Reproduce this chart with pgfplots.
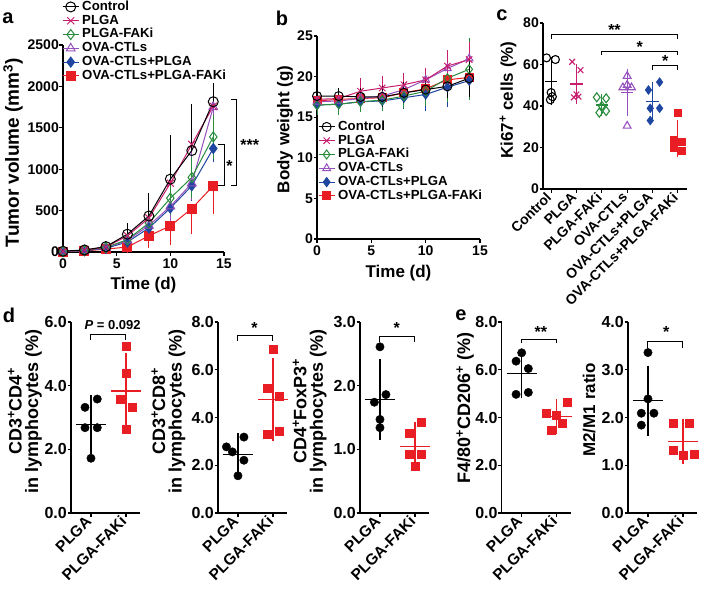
\documentclass[border=0pt]{standalone}
\usepackage{fontspec}
\setmainfont{Liberation Sans}
\usepackage{pgfplots}
\pgfplotsset{compat=1.18}

\definecolor{cCtrl}{RGB}{0,0,0}
\definecolor{cPLGA}{RGB}{200,30,110}
\definecolor{cFAK}{RGB}{40,140,60}
\definecolor{cOVA}{RGB}{150,80,190}
\definecolor{cOP}{RGB}{30,70,160}
\definecolor{cOPF}{RGB}{232,30,36}

\newcommand\fs[1]{\fontsize{#1}{#1}\selectfont\bfseries}
\newcommand\fl{\fontsize{18}{16.5}\selectfont\bfseries}
\tikzset{br/.style={black, line width=1pt}}

\pgfplotsset{
  gp/.style={
    scale only axis, axis lines=left, axis line style={-, line width=1.3pt},
    enlargelimits=false, clip=false,
    tick align=outside, major tick length=3.5pt,
    tick style={black, line width=1.2pt},
    tick label style={font=\fs{14}},
    yticklabel style={inner xsep=0.5pt},
    label style={font=\fs{17}},
    /pgf/number format/assume math mode=true,
    /pgf/number format/1000 sep={},
    legend image code/.code={\draw[mark repeat=2, mark phase=2, #1] plot coordinates {(0pt,0pt) (8pt,0pt) (16pt,0pt)};},
  },
  lg/.style={legend cell align=left, reverse legend,
    legend style={draw=none, fill=none, inner sep=0pt, font=\fs{13.2}, row sep=0.5pt,
      nodes={inner xsep=3pt, inner ysep=0.5pt, text height=9.5pt, text depth=2.8pt}}},
  ln/.style={line width=1pt, mark options={solid, line width=1pt},
    error bars/y explicit, error bars/error bar style={line width=1pt},
    error bars/error mark options={line width=1pt, mark size=4pt}},
  cat/.style={gp, width=69pt, height=191pt, xmin=0.43, xmax=2.4, ymin=0,
    xtick={1,2}, xticklabels={PLGA,PLGA-FAKi},
    xticklabel style={rotate=45, anchor=east, font=\fs{15.5}},
    yticklabel style={font=\fs{16}, /pgf/number format/.cd, fixed, fixed zerofill, precision=1},
    label style={font=\fl}},
  dot/.style={only marks, mark=*, mark size=4.2pt, black, forget plot},
  sq/.style={only marks, mark=square*, mark size=4pt, cOPF, forget plot},
  mn/.style={#1, line width=1.2pt, mark=none, forget plot},
  sd/.style={draw=none, mark=none, forget plot, error bars/y dir=both, error bars/y explicit,
    error bars/error bar style={#1, line width=1.2pt},
    error bars/error mark options={#1, line width=1.2pt, mark size=6.5pt}},
  sdc/.style={draw=none, mark=none, forget plot, error bars/y dir=both, error bars/y explicit,
    error bars/error bar style={#1, line width=1.1pt},
    error bars/error mark options={#1, line width=1.1pt, mark size=4pt}},
}

\begin{document}
\begin{tikzpicture}
\useasboundingbox (0pt,0pt) rectangle (709pt,-591pt);

% ---------- a ----------
\node[font=\fs{20}] at (8pt,-18pt) {a};
\begin{axis}[gp, lg, at={(63pt,-252pt)}, anchor=south west, width=161pt, height=207pt,
  xmin=0, xmax=15, ymin=0, ymax=2500, xtick={0,5,10,15}, ytick={0,500,...,2500},
  xlabel={Time (d)}, ylabel={Tumor volume (mm\textsuperscript{3})},
  xlabel style={at={(axis description cs:0.5,-0.16)}, anchor=center},
  ylabel style={font=\fs{19}, at={(axis description cs:-0.31,0.48)}, anchor=center},
  legend style={at={(axis description cs:-0.006,1.217)}, anchor=north west}]
\addplot[cOPF, mark=square*, mark size=4.5pt, ln, error bars/y dir=minus] coordinates {
  (0,5) +- (0,0) (2,12) +- (0,5) (4,35) +- (0,10) (6,60) +- (0,25) (8,195) +- (0,100)
  (10,315) +- (0,185) (12,525) +- (0,265) (14,800) +- (0,290)};
\addlegendentry{OVA-CTLs+PLGA-FAKi}
\addplot[cOP, mark=diamond*, mark size=5pt, ln, error bars/y dir=both] coordinates {
  (0,5) +- (0,0) (2,15) +- (0,5) (4,45) +- (0,10) (6,120) +- (0,30) (8,290) +- (0,70)
  (10,530) +- (0,130) (12,800) +- (0,130) (14,1250) +- (0,120)};
\addlegendentry{OVA-CTLs+PLGA}
\addplot[cOVA, mark=triangle, mark size=5pt, ln, error bars/y dir=both] coordinates {
  (0,6) += (0,0) -= (0,0) (2,18) += (0,5) -= (0,5) (4,50) += (0,10) -= (0,10)
  (6,140) += (0,40) -= (0,40) (8,320) += (0,90) -= (0,90) (10,550) += (0,150) -= (0,150)
  (12,830) += (0,480) -= (0,150) (14,1750) += (0,0) -= (0,470)};
\addlegendentry{OVA-CTLs}
\addplot[cFAK, mark=diamond, mark size=5pt, ln, error bars/y dir=both] coordinates {
  (0,8) +- (0,0) (2,20) +- (0,5) (4,55) +- (0,10) (6,150) +- (0,40) (8,350) +- (0,90)
  (10,650) +- (0,160) (12,900) +- (0,200) (14,1390) +- (0,220)};
\addlegendentry{PLGA-FAKi}
\addplot[cPLGA, mark=x, mark size=5pt, ln, error bars/y dir=plus] coordinates {
  (0,8) +- (0,0) (2,22) +- (0,8) (4,60) +- (0,15) (6,195) +- (0,60) (8,410) +- (0,120)
  (10,830) +- (0,280) (12,1300) +- (0,440) (14,1760) +- (0,200)};
\addlegendentry{PLGA}
\addplot[cCtrl, mark=o, mark size=5pt, ln, error bars/y dir=plus] coordinates {
  (0,10) +- (0,0) (2,25) +- (0,10) (4,65) +- (0,20) (6,215) +- (0,85) (8,435) +- (0,230)
  (10,880) +- (0,480) (12,1225) +- (0,515) (14,1815) +- (0,180)};
\addlegendentry{Control}
\draw[br] (14.4,1301) -- (15,1301) -- (15,801) -- (14.4,801);
\draw[br] (15.66,1836) -- (16.18,1836) -- (16.18,801) -- (15.66,801);
\node[font=\fs{16}] at (15.5,1040) {*};
\node[font=\fs{16}] at (17.4,1290) {***};
\end{axis}

% ---------- b ----------
\node[font=\fs{20}] at (282pt,-18pt) {b};
\begin{axis}[gp, lg, at={(317pt,-239pt)}, anchor=south west, width=163pt, height=203pt,
  xmin=0, xmax=15, ymin=0, ymax=25, xtick={0,5,10,15}, ytick={0,5,...,25},
  xlabel={Time (d)}, ylabel={Body weight (g)},
  xlabel style={at={(axis description cs:0.5,-0.167)}, anchor=center},
  ylabel style={at={(axis description cs:-0.196,0.54)}, anchor=center},
  legend style={at={(axis description cs:0.006,0.586)}, anchor=north west}]
\addplot[cOPF, mark=square*, mark size=4pt, ln, error bars/y dir=both] coordinates {
  (0,17.0) +- (0,0.5) (2,17.2) +- (0,0.5) (4,17.3) +- (0,0.5) (6,17.4) +- (0,0.6)
  (8,18.0) +- (0,0.7) (10,18.5) +- (0,0.8) (12,19.6) +- (0,0.9) (14,19.9) +- (0,1.2)};
\addlegendentry{OVA-CTLs+PLGA-FAKi}
\addplot[cOP, mark=diamond*, mark size=4.5pt, ln, error bars/y dir=both] coordinates {
  (0,16.5) +- (0,0.5) (2,16.6) +- (0,0.5) (4,16.9) +- (0,0.6) (6,17.0) +- (0,0.7)
  (8,17.4) +- (0,0.9) (10,17.8) +- (0,1.5) (12,18.7) +- (0,2.0) (14,19.5) +- (0,1.5)};
\addlegendentry{OVA-CTLs+PLGA}
\addplot[cOVA, mark=triangle, mark size=4.5pt, ln, error bars/y dir=both] coordinates {
  (0,16.9) +- (0,0.6) (2,17.0) +- (0,0.6) (4,17.3) +- (0,0.7) (6,17.6) +- (0,0.8)
  (8,18.4) +- (0,0.9) (10,19.6) +- (0,1.0) (12,21.0) +- (0,1.2) (14,22.2) +- (0,1.6)};
\addlegendentry{OVA-CTLs}
\addplot[cFAK, mark=diamond, mark size=4.5pt, ln, error bars/y dir=both] coordinates {
  (0,16.5) +- (0,0.7) (2,16.6) +- (0,0.8) (4,16.9) +- (0,0.8) (6,17.1) +- (0,0.8)
  (8,17.6) +- (0,1.0) (10,18.2) +- (0,1.3) (12,19.8) +- (0,2.4) (14,20.9) +- (0,3.3)};
\addlegendentry{PLGA-FAKi}
\addplot[cPLGA, mark=x, mark size=4.5pt, ln, error bars/y dir=both] coordinates {
  (0,17.2) +- (0,0.7) (2,17.3) +- (0,0.6) (4,18.2) +- (0,1.1) (6,18.6) +- (0,1.0)
  (8,19.0) +- (0,0.9) (10,19.6) +- (0,1.0) (12,21.3) +- (0,1.5) (14,22.1) +- (0,1.7)};
\addlegendentry{PLGA}
\addplot[cCtrl, mark=o, mark size=4.5pt, ln, error bars/y dir=both] coordinates {
  (0,17.6) +- (0,0.8) (2,17.6) +- (0,0.5) (4,17.5) +- (0,0.6) (6,17.5) +- (0,0.8)
  (8,18.0) +- (0,0.8) (10,18.4) +- (0,0.8) (12,18.8) +- (0,1.0) (14,19.8) +- (0,1.8)};
\addlegendentry{Control}
\end{axis}

% ---------- c ----------
\node[font=\fs{20}] at (502pt,-15pt) {c};
\begin{axis}[gp, at={(543pt,-189pt)}, anchor=south west, width=144pt, height=166pt,
  xmin=0.68, xmax=6.36, ymin=0, ymax=80, ytick={0,20,40,60,80},
  xtick={1,2,3,4,5,6},
  xticklabels={Control,PLGA,PLGA-FAKi,OVA-CTLs,OVA-CTLs+PLGA,OVA-CTLs+PLGA-FAKi},
  xticklabel style={rotate=45, anchor=east},
  ylabel={Ki67\textsuperscript{+} cells (\%)},
  ylabel style={at={(axis description cs:-0.243,0.536)}, anchor=center}]
\addplot[only marks, black, mark=o, mark size=4pt, mark options={line width=1.1pt}] coordinates {
  (0.82,63.2) (1.17,62.4) (1,46.5) (1.05,44.5) (0.97,43.0)};
\addplot[only marks, cPLGA, mark=x, mark size=4pt, mark options={line width=1.1pt}] coordinates {
  (1.83,61.3) (2.16,57.3) (2,45.6) (1.9,44.2) (2.08,44.5)};
\addplot[only marks, cFAK, mark=diamond, mark size=4.5pt, mark options={line width=1.1pt}] coordinates {
  (2.8,44.2) (3.17,43.7) (3,40.0) (3.17,37.6) (2.9,36.8)};
\addplot[only marks, cOVA, mark=triangle, mark size=4.5pt, mark options={line width=1.1pt}] coordinates {
  (4,54.4) (4,50.1) (3.83,48.9) (4.17,48.9) (4,30.4)};
\addplot[only marks, cOP, mark=diamond*, mark size=4.5pt] coordinates {
  (4.84,47.7) (5.28,51.5) (4.91,38.9) (5.28,38.9) (4.91,33.0)};
\addplot[only marks, cOPF, mark=square*, mark size=3.5pt] coordinates {
  (6,36.8) (5.83,24.0) (6.17,22.8) (5.83,19.7) (6.17,18.5)};
\addplot[mn=black] coordinates {(0.76,52) (1.24,52)};
\addplot[sdc=black] coordinates {(1,52) +- (0,9.5)};
\addplot[mn=cPLGA] coordinates {(1.76,50.6) (2.24,50.6)};
\addplot[sdc=cPLGA] coordinates {(2,50.6) +- (0,7.7)};
\addplot[mn=cFAK] coordinates {(2.76,40.5) (3.24,40.5)};
\addplot[sdc=cFAK] coordinates {(3,40.5) +- (0,3.3)};
\addplot[mn=cOVA] coordinates {(3.76,46.5) (4.24,46.5)};
\addplot[sdc=cOVA] coordinates {(4,46.5) +- (0,9.2)};
\addplot[mn=cOP] coordinates {(4.76,42) (5.24,42)};
\addplot[sdc=cOP] coordinates {(5,42) +- (0,7.7)};
\addplot[mn=cOPF] coordinates {(5.76,24.4) (6.24,24.4)};
\addplot[sdc=cOPF] coordinates {(6,24.4) +- (0,7.1)};
\draw[br] (1,72.5) -- (1,74.4) -- (6,74.4) -- (6,72.5);
\draw[br] (3,64.5) -- (3,66.4) -- (6,66.4) -- (6,64.5);
\draw[br] (5,57.5) -- (5,59.4) -- (6,59.4) -- (6,57.5);
\node[font=\fs{16}] at (3.5,76.5) {**};
\node[font=\fs{16}] at (4.5,68.5) {*};
\node[font=\fs{16}] at (5.5,61.5) {*};
\end{axis}

% ---------- d ----------
\node[font=\fs{20}] at (9pt,-315pt) {d};
\begin{axis}[cat, at={(71pt,-513pt)}, anchor=south west, ymax=6, ytick={0,2,4,6},
  ylabel={CD3\textsuperscript{+}CD4\textsuperscript{+}\\in lymphocytes (\%)},
  ylabel style={align=center, at={(axis description cs:-0.667,0.534)}, anchor=center}]
\addplot[dot] coordinates {(0.83,3.32) (1.18,3.58) (0.83,2.68) (1.18,2.68) (1,1.72)};
\addplot[sq] coordinates {(2,5.24) (2,4.40) (1.83,3.57) (2.18,3.32) (2,2.64)};
\addplot[mn=black] coordinates {(0.57,2.77) (1.43,2.77)};
\addplot[sd=black] coordinates {(1,2.77) +- (0,0.72)};
\addplot[mn=cOPF] coordinates {(1.57,3.83) (2.43,3.83)};
\addplot[sd=cOPF] coordinates {(2,3.83) +- (0,0.99)};
\draw[br] (1,5.45) -- (1,5.61) -- (2,5.61) -- (2,5.45);
\node[font=\fs{13}] at (1.62,5.92) {\textit{P} = 0.092};
\end{axis}

\begin{axis}[cat, at={(218pt,-513pt)}, anchor=south west, ymax=8, ytick={0,2,4,6,8},
  ylabel={CD3\textsuperscript{+}CD8\textsuperscript{+}\\in lymphocytes (\%)},
  ylabel style={align=center, at={(axis description cs:-0.717,0.534)}, anchor=center}]
\addplot[dot] coordinates {(0.67,2.77) (0.84,2.56) (1.17,3.18) (1.17,2.21) (1,1.56)};
\addplot[sq] coordinates {(2,6.88) (1.84,5.22) (2.19,4.91) (1.84,3.32) (2.19,3.42)};
\addplot[mn=black] coordinates {(0.57,2.46) (1.43,2.46)};
\addplot[sd=black] coordinates {(1,2.46) +- (0,0.6)};
\addplot[mn=cOPF] coordinates {(1.57,4.75) (2.43,4.75)};
\addplot[sd=cOPF] coordinates {(2,4.75) +- (0,1.47)};
\draw[br] (1,7.2) -- (1,7.43) -- (2,7.43) -- (2,7.2);
\node[font=\fs{16}] at (1.47,7.75) {*};
\end{axis}

\begin{axis}[cat, at={(360pt,-513pt)}, anchor=south west, ymax=3, ytick={0,1,2,3},
  ylabel={CD4\textsuperscript{+}FoxP3\textsuperscript{+}\\in lymphocytes (\%)},
  ylabel style={align=center, at={(axis description cs:-0.73,0.534)}, anchor=center}]
\addplot[dot] coordinates {(1,2.61) (1.17,1.86) (0.84,1.74) (1,1.47) (1,1.34)};
\addplot[sq] coordinates {(2.19,1.43) (1.84,1.25) (1.84,0.93) (2.19,0.93) (2,0.73)};
\addplot[mn=black] coordinates {(0.57,1.78) (1.43,1.78)};
\addplot[sd=black] coordinates {(1,1.78) +- (0,0.53)};
\addplot[mn=cOPF] coordinates {(1.57,1.05) (2.43,1.05)};
\addplot[sd=cOPF] coordinates {(2,1.05) +- (0,0.28)};
\draw[br] (1,2.68) -- (1,2.78) -- (2,2.78) -- (2,2.68);
\node[font=\fs{16}] at (1.48,2.9) {*};
\end{axis}

% ---------- e ----------
\node[font=\fs{20}] at (461pt,-315pt) {e};
\begin{axis}[cat, at={(501.7pt,-513pt)}, anchor=south west, ymax=8, ytick={0,2,4,6,8},
  ylabel={F4/80\textsuperscript{+}CD206\textsuperscript{+} (\%)},
  ylabel style={at={(axis description cs:-0.53,0.55)}, anchor=center}]
\addplot[dot] coordinates {(1,6.71) (0.84,6.36) (1.19,6.05) (0.84,4.97) (1.19,5.05)};
\addplot[sq] coordinates {(2.31,4.65) (1.71,4.2) (2,4.10) (2.17,3.76) (1.83,3.48)};
\addplot[mn=black] coordinates {(0.57,5.84) (1.43,5.84)};
\addplot[sd=black] coordinates {(1,5.84) +- (0,0.77)};
\addplot[mn=cOPF] coordinates {(1.57,4.04) (2.43,4.04)};
\addplot[sd=cOPF] coordinates {(2,4.04) +- (0,0.45)};
\draw[br] (1,7.1) -- (1,7.27) -- (2,7.27) -- (2,7.1);
\node[font=\fs{16}] at (1.55,7.6) {**};
\end{axis}

\begin{axis}[cat, at={(628pt,-513pt)}, anchor=south west, ymax=4, ytick={0,1,2,3,4},
  ylabel={M2/M1 ratio},
  ylabel style={font=\fs{17}, at={(axis description cs:-0.565,0.54)}, anchor=center}]
\addplot[dot] coordinates {(1,3.36) (1,2.39) (0.81,2.09) (1.17,2.09) (0.81,1.84)};
\addplot[sq] coordinates {(1.71,1.89) (2.17,1.89) (1.71,1.31) (2,1.21) (2.31,1.23)};
\addplot[mn=black] coordinates {(0.57,2.35) (1.43,2.35)};
\addplot[sd=black] coordinates {(1,2.35) +- (0,0.6)};
\addplot[mn=cOPF] coordinates {(1.57,1.50) (2.43,1.50)};
\addplot[sd=cOPF] coordinates {(2,1.50) +- (0,0.34)};
\draw[br] (1,3.45) -- (1,3.6) -- (2,3.6) -- (2,3.45);
\node[font=\fs{16}] at (1.52,3.8) {*};
\end{axis}
\end{tikzpicture}
\end{document}
